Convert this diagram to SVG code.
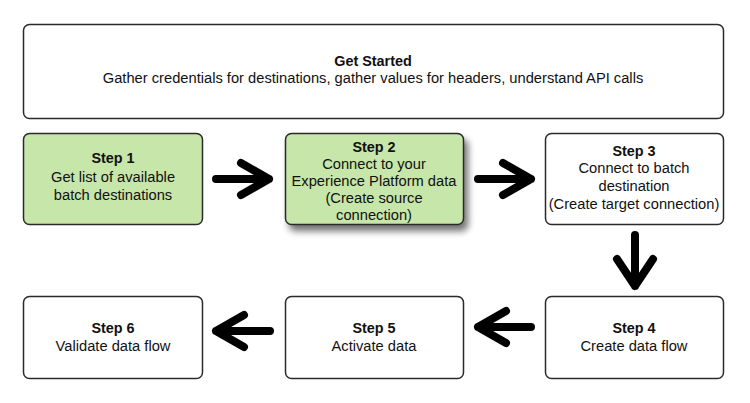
<svg xmlns="http://www.w3.org/2000/svg" width="750" height="403" viewBox="0 0 750 403">
<defs>
<style>
.box{fill:#ffffff;stroke:#2a2a2a;stroke-width:1.5}
.green{fill:#c6e6aa}
text{font-family:"Liberation Sans",Arial,sans-serif;font-size:14.7px;fill:#111;text-anchor:middle}
.b{font-weight:bold;font-size:14.4px}
.arrow{fill:none;stroke:#000;stroke-width:8;stroke-linecap:round;stroke-linejoin:round}
</style>
<filter id="shadow" x="-20%" y="-20%" width="140%" height="150%">
<feGaussianBlur in="SourceAlpha" stdDeviation="3.5"/>
<feOffset dx="4" dy="6" result="o"/>
<feComponentTransfer><feFuncA type="linear" slope="0.55"/></feComponentTransfer>
<feMerge><feMergeNode/><feMergeNode in="SourceGraphic"/></feMerge>
</filter>
</defs>
<rect width="750" height="403" fill="#ffffff"/>

<g id="get-started">
<rect class="box" x="23.5" y="24.5" width="700" height="94" rx="6"/>
<text class="b" x="373" y="66">Get Started</text>
<text x="373" y="83">Gather credentials for destinations, gather values for headers, understand API calls</text>
</g>

<g id="step1">
<rect class="box green" x="23.5" y="133.5" width="179" height="91" rx="6"/>
<text class="b" x="113" y="163">Step 1</text>
<text x="113" y="182">Get list of available</text>
<text x="113" y="200">batch destinations</text>
</g>

<g id="step2">
<rect class="box green" x="285.5" y="133.5" width="178" height="91" rx="6" filter="url(#shadow)"/>
<text class="b" x="374" y="152">Step 2</text>
<text x="374" y="169">Connect to your</text>
<text x="374" y="186">Experience Platform data</text>
<text x="374" y="203">(Create source</text>
<text x="374" y="220">connection)</text>
</g>

<g id="step3">
<rect class="box" x="545.5" y="133.5" width="178" height="91" rx="6"/>
<text class="b" x="634" y="156">Step 3</text>
<text x="634" y="173">Connect to batch</text>
<text x="634" y="191">destination</text>
<text x="634" y="209">(Create target connection)</text>
</g>

<g id="step4">
<rect class="box" x="545.5" y="296.5" width="178" height="82" rx="6"/>
<text class="b" x="634" y="333">Step 4</text>
<text x="634" y="351">Create data flow</text>
</g>

<g id="step5">
<rect class="box" x="285.5" y="296.5" width="178" height="82" rx="6"/>
<text class="b" x="374" y="333">Step 5</text>
<text x="374" y="351">Activate data</text>
</g>

<g id="step6">
<rect class="box" x="23.5" y="296.5" width="179" height="82" rx="6"/>
<text class="b" x="113" y="333">Step 6</text>
<text x="113" y="351">Validate data flow</text>
</g>

<g id="connectors">
<path class="arrow" d="M216,179 H269 M241,163 L269,179 L241,195"/>
<path class="arrow" d="M478,179 H531 M503,163 L531,179 L503,195"/>
<path class="arrow" d="M635,235 V286 M617,259 L635,286 L653,259"/>
<path class="arrow" d="M531,327 H478 M506,311 L478,327 L506,343"/>
<path class="arrow" d="M270,331 H216 M244,315 L216,331 L244,347"/>
</g>
</svg>
